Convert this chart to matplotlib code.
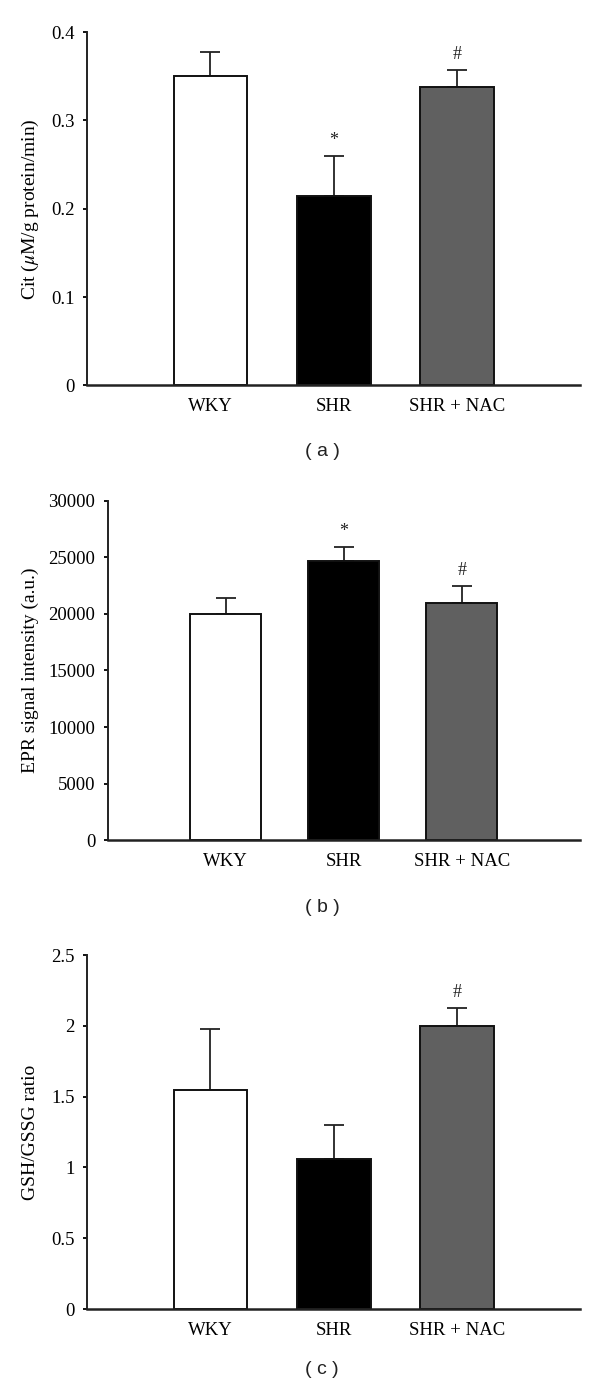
import numpy as np
import matplotlib
matplotlib.use('Agg')
import matplotlib.pyplot as plt

plt.rcParams['font.family'] = ['Liberation Serif', 'DejaVu Serif']
plt.rcParams['mathtext.fontset'] = 'stix'

# Datos
grupos = ['WKY', 'SHR', 'SHR + NAC']
colores = ['white', 'black', '#606060']

cit_media = [0.35, 0.215, 0.338]
cit_error = [0.027, 0.045, 0.019]
cit_marcas = ['', '*', '#']

epr_media = [20000, 24700, 21000]
epr_error = [1430, 1240, 1500]
epr_marcas = ['', '*', '#']

gsh_media = [1.55, 1.06, 2.0]
gsh_error = [0.425, 0.24, 0.125]
gsh_marcas = ['', '', '#']

paneles = [
    # (media, error, marcas, ylabel, yticks, ticklabels, rect, labelx, letra, y_letra)
    (cit_media, cit_error, cit_marcas, r'Cit ($\mu$M/g protein/min)',
     [0, 0.1, 0.2, 0.3, 0.4], ['0', '0.1', '0.2', '0.3', '0.4'],
     [0.1455, 0.7233, 0.821, 0.2536], -0.116, '( a )', 1 - 452 / 1393),
    (epr_media, epr_error, epr_marcas, 'EPR signal intensity (a.u.)',
     [0, 5000, 10000, 15000, 20000, 25000, 30000],
     ['0', '5000', '10000', '15000', '20000', '25000', '30000'],
     [0.1795, 0.3968, 0.787, 0.2438], -0.1645, '( b )', 1 - 907 / 1393),
    (gsh_media, gsh_error, gsh_marcas, 'GSH/GSSG ratio',
     [0, 0.5, 1, 1.5, 2, 2.5], ['0', '0.5', '1', '1.5', '2', '2.5'],
     [0.1455, 0.0603, 0.821, 0.2541], -0.116, '( c )', 1 - 1369 / 1393),
]

fig = plt.figure(figsize=(6, 13.93), dpi=100)
x = np.arange(1, len(grupos) + 1)

for media, error, marcas, ylabel, yticks, yticklabels, rect, labelx, letra, yl in paneles:
    ax = fig.add_axes(rect)
    ax.bar(x, media, width=0.6, color=colores, edgecolor='#111111', linewidth=1.4, zorder=2)
    ax.errorbar(x, media, yerr=[np.zeros(len(media)), error], fmt='none',
                ecolor='#222222', elinewidth=1.3, capsize=7, capthick=1.3, zorder=1)
    for xi, m, e, t in zip(x, media, error, marcas):
        if t:
            ax.annotate(t, (xi, m + e), xytext=(0, 11), textcoords='offset points',
                        ha='center', va='center', fontsize=13, color='#222222')
    ax.set_xlim(0, 4)
    ax.set_ylim(yticks[0], yticks[-1])
    ax.set_yticks(yticks)
    ax.set_yticklabels(yticklabels)
    ax.set_xticks(x)
    ax.set_xticklabels(grupos)
    ax.tick_params(axis='x', length=0, pad=9, labelsize=13.5)
    ax.tick_params(axis='y', direction='out', length=3, width=1.3, pad=6, labelsize=13.5)
    ax.spines['top'].set_visible(False)
    ax.spines['right'].set_visible(False)
    ax.spines['left'].set_linewidth(1.4)
    ax.spines['bottom'].set_linewidth(1.8)
    ax.spines['left'].set_color('#222222')
    ax.spines['bottom'].set_color('#222222')
    ax.set_ylabel(ylabel, fontsize=14, va='center')
    ax.yaxis.set_label_coords(labelx, 0.5)
    fig.text(322 / 600, yl, letra, ha='center', va='center', fontsize=14,
             family='Liberation Sans', color='#222222')

plt.savefig('out.png', dpi=100)
